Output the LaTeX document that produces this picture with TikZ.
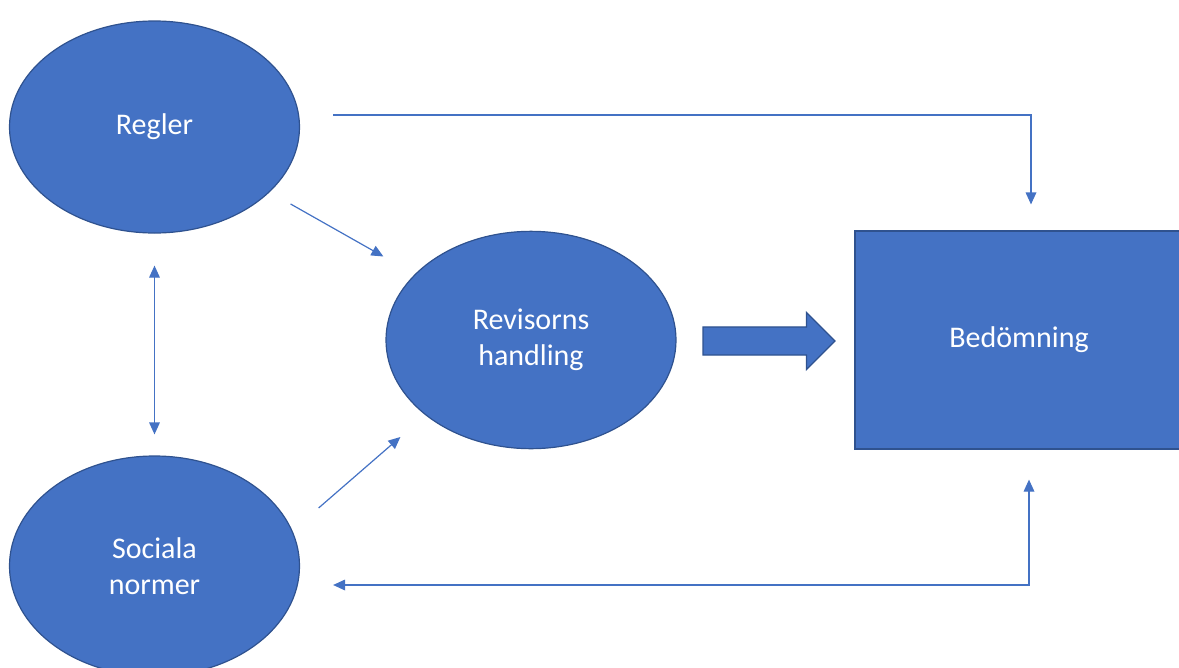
\documentclass[tikz,border=0pt]{standalone}
\usepackage{fontspec}
\setmainfont{Carlito}
\usepackage{xcolor}
\usetikzlibrary{shapes.geometric, shapes.arrows, arrows.meta, positioning, calc}

\definecolor{offblue}{HTML}{4472C4}
\definecolor{offedge}{HTML}{2F528F}

\begin{document}
\begin{tikzpicture}[x=0.75pt, y=-0.75pt,
    blob/.style={draw=offedge, line width=0.9pt, fill=offblue, ellipse, text=white,
        font=\fontsize{22.5}{27}\selectfont, align=center, inner sep=0pt},
    link/.style={draw=offblue, line width=0.9pt},
    >={Triangle[length=9pt, width=8pt]}]
    \clip (0,0) rectangle (1179,668);
    \useasboundingbox (0,0) rectangle (1179,668);

    \node[blob, minimum width=217.5pt, minimum height=159pt] (regler) at (154.5,127) {Regler};
    \node[blob, minimum width=217.5pt, minimum height=165pt] (sociala) at (154.5,566) {Sociala\\normer};
    \node[blob, minimum width=217.5pt, minimum height=163pt] (revisorns) at (531,340) {Revisorns\\handling};
    \node[blob, rectangle, minimum width=246pt, minimum height=163.5pt] (bedomning) at (1019,340) {Bedömning};

    % block arrow between action and judgement
    \node[single arrow, draw=offedge, line width=0.9pt, fill=offblue, inner xsep=0pt, inner ysep=10.1pt,
        minimum height=99pt, single arrow head extend=10.9pt,
        single arrow tip angle=90] (push) at (762,341) {};

    \draw[link, ->, shorten <=18pt, shorten >=27pt] (regler) -- (revisorns);
    \draw[link, ->] ($(sociala.east)+(18.5,-58)$) -- ($(revisorns.west)+(15,97)$);
    \draw[link, <->] ($(regler.south)+(0,32)$) -- ($(sociala.north)+(0,-21)$);
    \draw[link, ->] ($(regler.east)+(33,-12)$) -| ($(bedomning.north)+(12,-26)$);
    \draw[link, <->] ($(sociala.east)+(33,19)$) -| ($(bedomning.south)+(10,30)$);
\end{tikzpicture}
\end{document}
